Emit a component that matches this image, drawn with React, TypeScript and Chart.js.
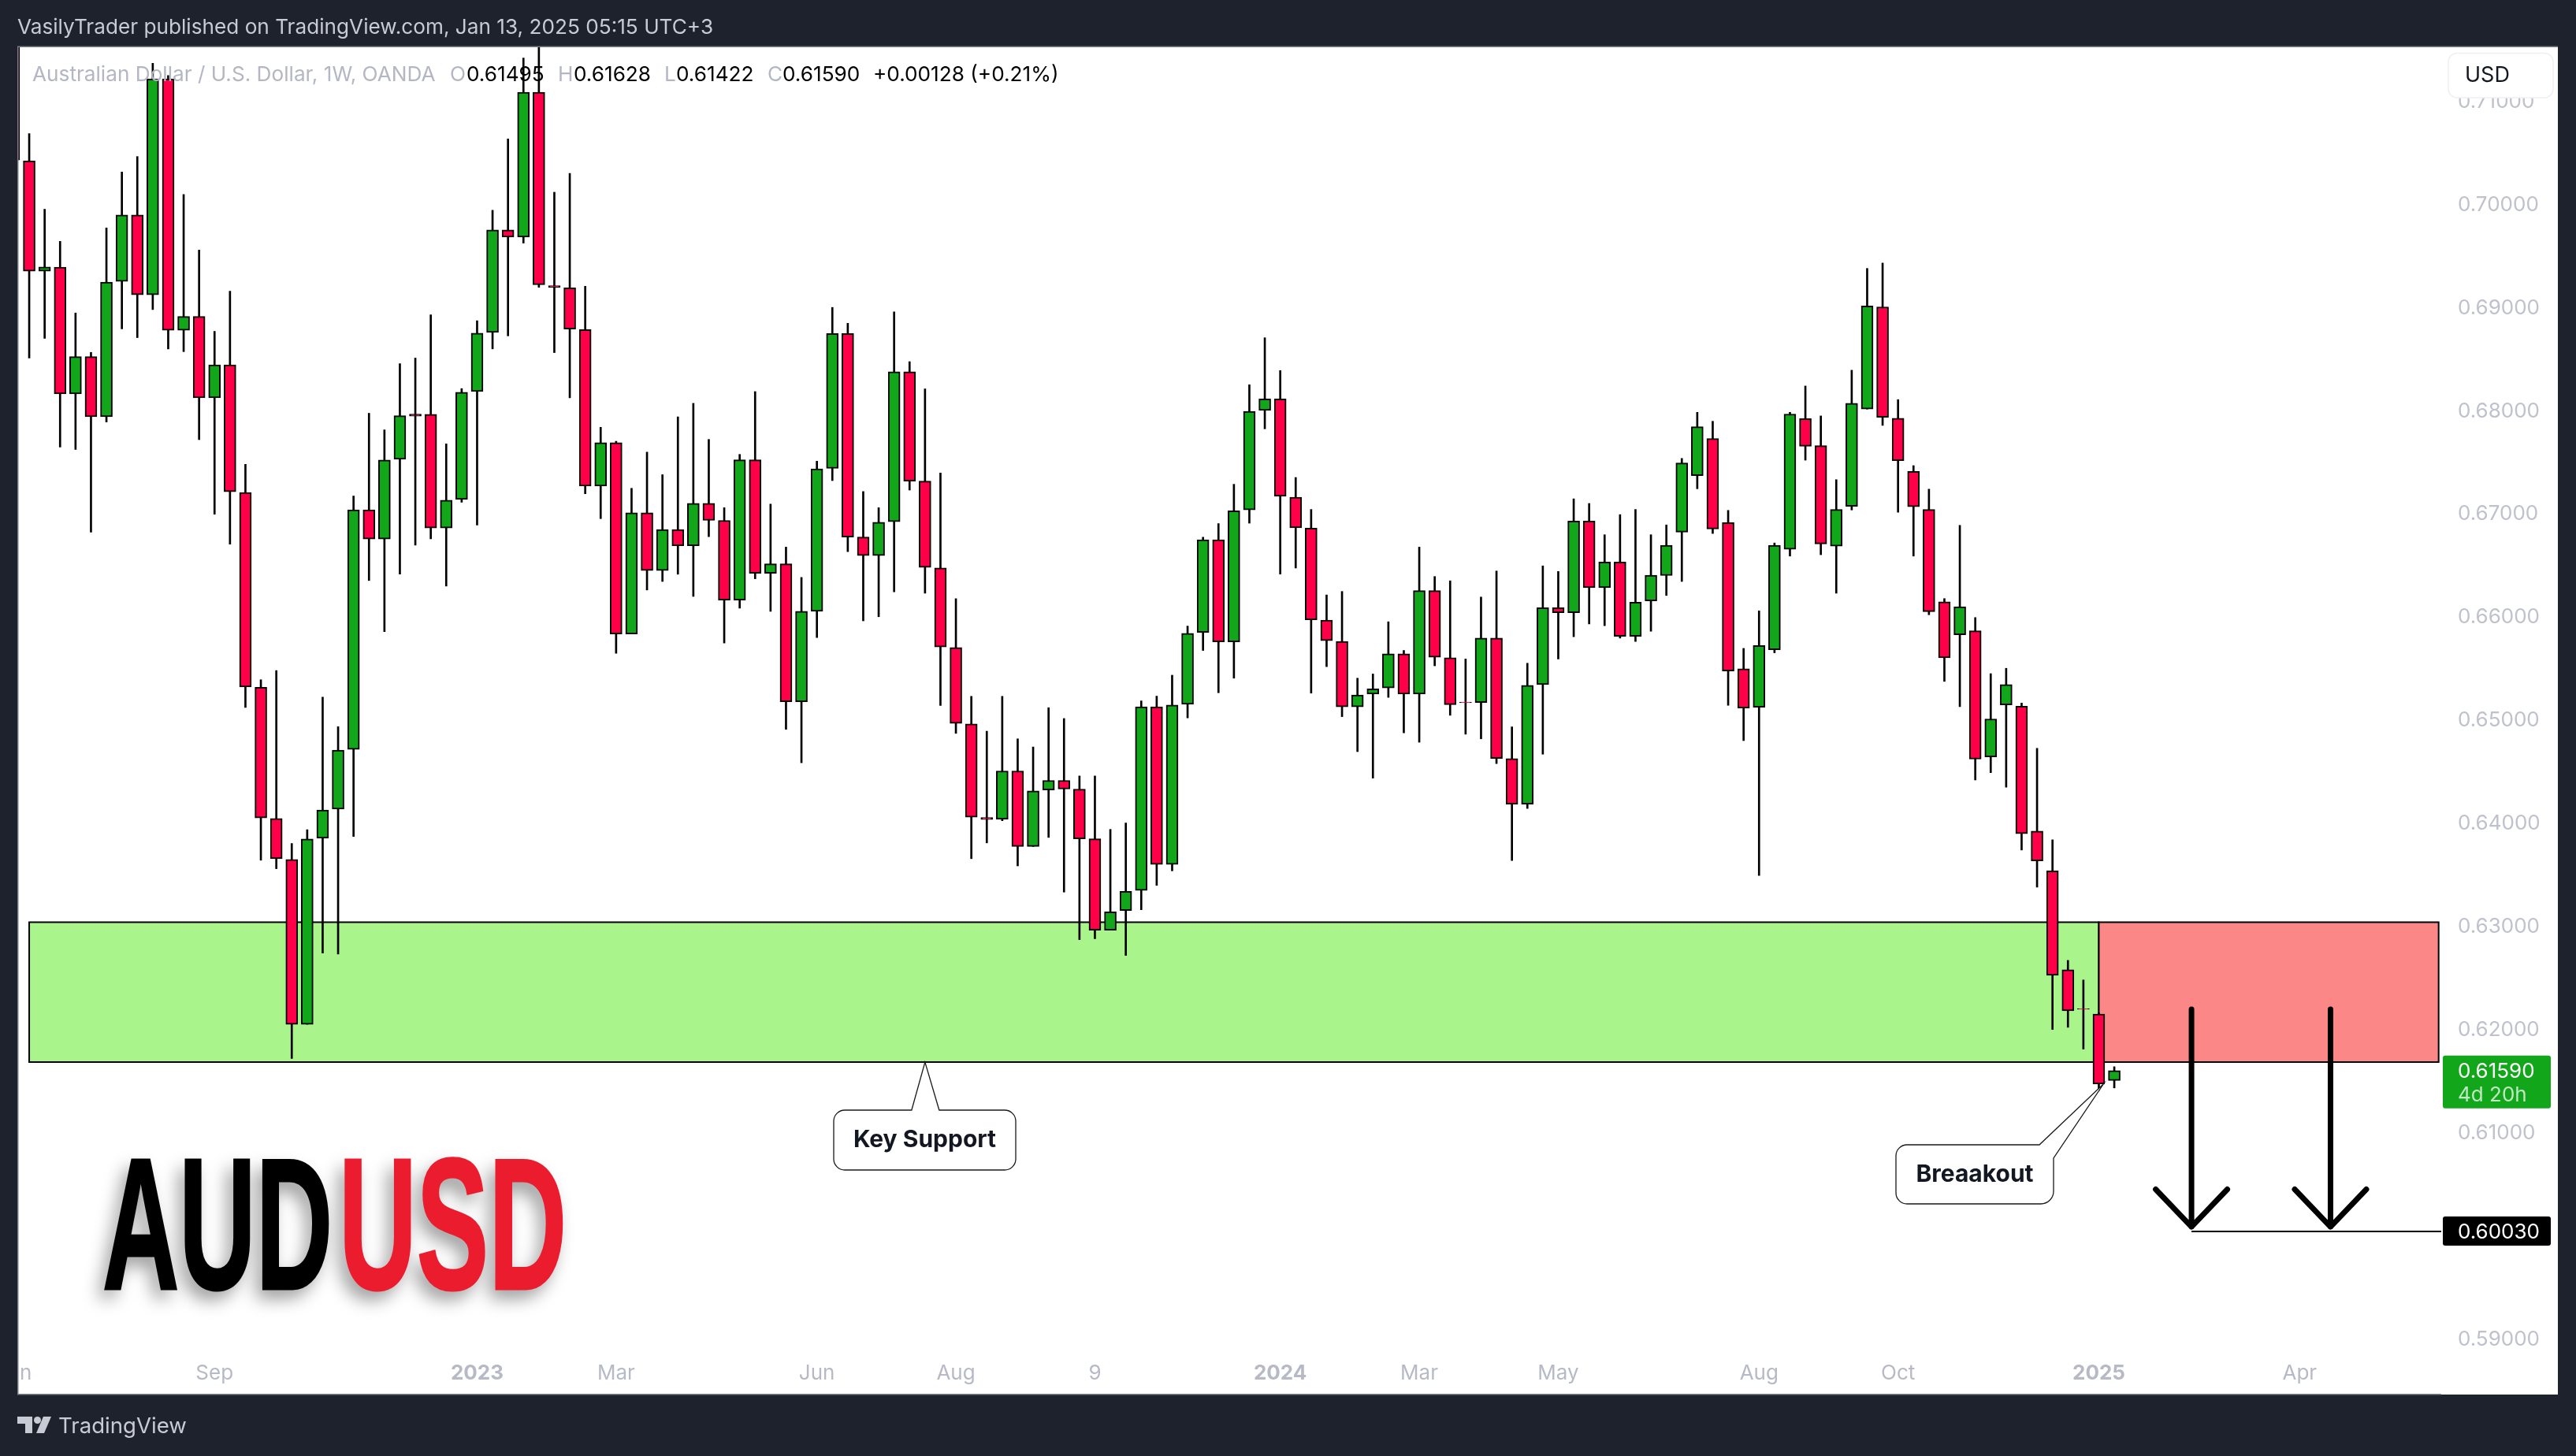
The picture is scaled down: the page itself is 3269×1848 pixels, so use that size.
import React, { useEffect, useRef } from "react";
import { Chart, registerables } from "chart.js";

Chart.register(...registerables);

const opens = [0.72,0.70412,0.69342,0.6938,0.68151,0.68513,0.6793,0.69243,0.69887,0.69113,0.71207,0.68769,0.68902,0.68114,0.68434,0.67196,0.65306,0.64035,0.63637,0.62039,0.63844,0.64125,0.64705,0.67028,0.66744,0.67517,0.67955,0.67954,0.66852,0.67128,0.68175,0.68748,0.69741,0.69672,0.71077,0.692,0.69179,0.68775,0.67258,0.67679,0.65824,0.66999,0.66438,0.66837,0.66679,0.67091,0.66925,0.66153,0.67512,0.66412,0.66504,0.65167,0.66043,0.67429,0.68736,0.66763,0.66583,0.66912,0.68367,0.67306,0.66465,0.65693,0.64952,0.64045,0.64026,0.64496,0.63763,0.64311,0.64404,0.6432,0.63838,0.62952,0.63142,0.63337,0.65117,0.63589,0.65142,0.65838,0.66737,0.65747,0.67027,0.67991,0.68103,0.6715,0.66849,0.65958,0.65751,0.65117,0.65242,0.653,0.65631,0.65242,0.66244,0.65594,0.65161,0.65159,0.65784,0.64616,0.64173,0.65333,0.66078,0.66029,0.66919,0.66273,0.66521,0.65801,0.66145,0.6639,0.66811,0.67359,0.67719,0.66903,0.65487,0.65114,0.65671,0.66645,0.67912,0.6765,0.66675,0.67061,0.68004,0.68995,0.67916,0.67399,0.67031,0.66136,0.65816,0.65855,0.64632,0.65136,0.65123,0.63913,0.63526,0.62568,0.6219,0.62138,0.61495];
const highs = [0.725,0.70675,0.69942,0.69631,0.68936,0.68554,0.69761,0.70303,0.70453,0.71357,0.71238,0.70085,0.69546,0.68758,0.69147,0.67469,0.6538,0.65469,0.63793,0.63926,0.65212,0.64924,0.67161,0.67964,0.67803,0.68445,0.68499,0.68919,0.67667,0.68203,0.68861,0.69932,0.70624,0.71408,0.717,0.70107,0.7029,0.69196,0.67828,0.67692,0.67236,0.67587,0.67368,0.67929,0.6806,0.6771,0.67048,0.67565,0.68174,0.67083,0.66666,0.66372,0.67499,0.6899,0.68837,0.67205,0.67048,0.68946,0.68464,0.68201,0.67385,0.66166,0.65219,0.64881,0.65219,0.64807,0.64728,0.65109,0.65004,0.64447,0.64447,0.63929,0.63991,0.65175,0.65221,0.65424,0.659,0.66762,0.66894,0.67275,0.6824,0.68696,0.68377,0.67341,0.67031,0.66202,0.66236,0.65395,0.65436,0.65942,0.65664,0.66666,0.66381,0.66339,0.65581,0.66182,0.66434,0.64923,0.6554,0.66484,0.6643,0.67134,0.67089,0.66786,0.66981,0.67031,0.66786,0.66881,0.67526,0.67973,0.67886,0.67022,0.65684,0.66048,0.66706,0.67973,0.68228,0.67938,0.6732,0.68381,0.69368,0.6942,0.68096,0.67456,0.67228,0.66167,0.66877,0.65983,0.65439,0.65491,0.65154,0.64715,0.63828,0.62659,0.62469,0.6215,0.61628];
const lows = [0.7,0.68499,0.6869,0.67636,0.67613,0.66811,0.67879,0.68782,0.68697,0.6897,0.68588,0.68561,0.67708,0.66985,0.66695,0.65111,0.6363,0.63548,0.61708,0.62039,0.62729,0.62721,0.6386,0.66342,0.65847,0.66405,0.66685,0.66746,0.66288,0.67101,0.6688,0.68588,0.68714,0.69614,0.69185,0.68552,0.68113,0.67184,0.66942,0.65636,0.65824,0.6625,0.66333,0.66403,0.66188,0.66767,0.65736,0.66074,0.66359,0.66043,0.64899,0.64575,0.65789,0.67311,0.66622,0.65951,0.65991,0.66232,0.67219,0.66219,0.65131,0.6486,0.63645,0.63798,0.64013,0.63575,0.63763,0.63851,0.63321,0.6286,0.62869,0.62952,0.62707,0.6315,0.63386,0.63527,0.6501,0.65664,0.65254,0.65395,0.66898,0.67813,0.66405,0.66463,0.6525,0.65507,0.65022,0.64683,0.64426,0.65209,0.64865,0.64774,0.65515,0.65035,0.64852,0.64807,0.64567,0.63627,0.64132,0.64658,0.65581,0.65797,0.65921,0.65904,0.65784,0.65751,0.6585,0.66197,0.66333,0.67232,0.66798,0.65132,0.6479,0.63483,0.65641,0.66579,0.67509,0.66592,0.66219,0.67026,0.68004,0.67846,0.67004,0.66579,0.6601,0.65364,0.65119,0.64408,0.64479,0.64338,0.63729,0.63369,0.61989,0.6201,0.61799,0.61398,0.61422];
const closes = [0.70419,0.69342,0.69383,0.68151,0.68513,0.6793,0.69236,0.69887,0.69113,0.71207,0.68769,0.68902,0.68114,0.68434,0.67203,0.6531,0.64039,0.63645,0.62039,0.63836,0.64117,0.64698,0.67028,0.66744,0.6751,0.6794,0.67935,0.66852,0.67121,0.68168,0.68741,0.69741,0.69672,0.71077,0.69209,0.69185,0.6878,0.67258,0.67679,0.65824,0.66999,0.66438,0.66837,0.66679,0.67091,0.66925,0.66153,0.67512,0.66412,0.66504,0.65167,0.66043,0.67425,0.68736,0.66763,0.66583,0.66907,0.68367,0.67306,0.66469,0.65697,0.64956,0.64048,0.64025,0.64496,0.63763,0.64303,0.64404,0.6432,0.63838,0.62952,0.6313,0.63328,0.65117,0.63589,0.65134,0.6583,0.66737,0.65747,0.67018,0.67983,0.68103,0.67159,0.66853,0.65962,0.65759,0.65117,0.65233,0.65291,0.65631,0.65242,0.66244,0.65598,0.65138,0.65157,0.65784,0.64616,0.64173,0.65325,0.66078,0.66029,0.66919,0.66273,0.66521,0.65801,0.66132,0.66393,0.66684,0.67482,0.67833,0.66842,0.65465,0.65106,0.65711,0.66684,0.67956,0.67644,0.66697,0.67031,0.68061,0.69004,0.67925,0.67504,0.67057,0.6604,0.65592,0.66088,0.6461,0.65,0.65334,0.63887,0.63624,0.62514,0.62171,0.62186,0.6146,0.6159];

const yTicks = [0.59,0.6,0.61,0.62,0.63,0.64,0.65,0.66,0.67,0.68,0.69,0.7,0.71];
const xTickIndex = [0,13,30,39,52,61,70,82,91,100,113,122,135,148];
const xTickLabels = ["Jun","Sep","2023","Mar","Jun","Aug","9","2024","Mar","May","Aug","Oct","2025","Apr"];
const boldTicks = [30,82,135];

const supportZone = { top: 0.63029, bottom: 0.61673, from: 1, split: 135, to: 157 };
const arrowIndex = [141,150];
const arrowTop = 0.62185;
const arrowTip = 0.60076;
const arrowHead = 0.60439;
const arrowHalf = 2.32;
const targetPrice = 0.6003;
const targetFrom = 141;
const lastPrice = 0.6159;

const priceMax = 0.7152;
const priceMin = 0.58877;
const indexMin = 0.283;
const indexMax = 157.17;

const keySupportTip = { x: 59, y: 0.61673 };
const breakoutTip = { x: 135.3, y: 0.6146 };

const FONT = "Inter";
const DARK = "#1e222d";
const GREEN = "#12a61a";
const RED = "#ff0048";

function roundedPath(ctx: CanvasRenderingContext2D, x: number, y: number, w: number, h: number, r: number) {
  ctx.beginPath();
  ctx.moveTo(x + r, y);
  ctx.arcTo(x + w, y, x + w, y + h, r);
  ctx.arcTo(x + w, y + h, x, y + h, r);
  ctx.arcTo(x, y + h, x, y, r);
  ctx.arcTo(x, y, x + w, y, r);
  ctx.closePath();
}

function text(ctx: CanvasRenderingContext2D, s: string, x: number, y: number, color: string, font: string, align: CanvasTextAlign = "left") {
  ctx.fillStyle = color;
  ctx.font = font;
  ctx.textAlign = align;
  ctx.textBaseline = "middle";
  ctx.fillText(s, x, y);
}

const backdrop = {
  id: "backdrop",
  beforeDraw(chart: any) {
    const c = chart.ctx;
    c.save();
    c.fillStyle = DARK;
    c.fillRect(0, 0, 3269, 1848);
    c.fillStyle = "#ffffff";
    c.fillRect(23, 59, 3223, 1711);
    c.restore();
  },
  beforeDatasetsDraw(chart: any) {
    const c = chart.ctx;
    const { x, y } = chart.scales;
    const top = y.getPixelForValue(supportZone.top);
    const bottom = y.getPixelForValue(supportZone.bottom);
    const a = x.getPixelForValue(supportZone.from);
    const b = x.getPixelForValue(supportZone.split);
    const d = x.getPixelForValue(supportZone.to);
    c.save();
    c.lineWidth = 2;
    c.strokeStyle = "#000000";
    c.fillStyle = "#a9f58b";
    c.fillRect(a, top, b - a, bottom - top);
    c.strokeRect(a, top, b - a, bottom - top);
    c.fillStyle = "#fb8886";
    c.fillRect(b, top, d - b, bottom - top);
    c.strokeRect(b, top, d - b, bottom - top);
    c.restore();
  },
  afterDraw(chart: any) {
    const c = chart.ctx;
    const { x, y } = chart.scales;
    c.save();
    // frame over clipped label
    c.fillStyle = DARK;
    c.fillRect(0, 1700, 22, 80);
    c.fillStyle = "#7b7f8a";
    c.fillRect(22, 59, 1.5, 1711);
    c.fillRect(22, 58.5, 3224, 1.5);
    c.fillRect(22, 1769, 3076, 1.5);

    // header + footer
    text(c, "VasilyTrader published on TradingView.com, Jan 13, 2025 05:15 UTC+3", 22, 35, "#c8cad4", `400 26.2px ${FONT}`);
    c.fillStyle = "#c8cad4";
    c.beginPath();
    c.moveTo(22, 1798); c.lineTo(41, 1798); c.lineTo(41, 1819); c.lineTo(32, 1819); c.lineTo(32, 1807); c.lineTo(22, 1807);
    c.closePath(); c.fill();
    c.beginPath(); c.arc(47.5, 1802.5, 4.5, 0, Math.PI * 2); c.fill();
    c.beginPath();
    c.moveTo(55, 1798); c.lineTo(65, 1798); c.lineTo(56, 1819); c.lineTo(46, 1819);
    c.closePath(); c.fill();
    text(c, "TradingView", 74, 1811, "#c8cad4", `400 27.6px ${FONT}`);

    // legend
    const gray = "#b4b7c3";
    const f = `400 26.2px ${FONT}`;
    text(c, "Australian Dollar / U.S. Dollar, 1W, OANDA", 41, 95, gray, f);
    text(c, "O", 571, 95, gray, f);
    text(c, "0.61495", 592, 95, "#000000", f);
    text(c, "H", 708, 95, gray, f);
    text(c, "0.61628", 728, 95, "#000000", f);
    text(c, "L", 843, 95, gray, f);
    text(c, "0.61422", 858, 95, "#000000", f);
    text(c, "C", 974, 95, gray, f);
    text(c, "0.61590", 993, 95, "#000000", f);
    text(c, "+0.00128 (+0.21%)", 1108, 95, "#000000", f);

    // currency button
    roundedPath(c, 3107, 67.5, 133, 56.5, 11);
    c.fillStyle = "#ffffff";
    c.fill();
    c.strokeStyle = "#eeeef5";
    c.lineWidth = 1.5;
    c.stroke();
    text(c, "USD", 3128, 96, "#131722", `400 27px ${FONT}`);

    // price labels
    const last = y.getPixelForValue(lastPrice);
    roundedPath(c, 3100, last - 19, 137, 67, 3);
    c.fillStyle = GREEN;
    c.fill();
    text(c, lastPrice.toFixed(5), 3119, last + 1, "#ffffff", `400 26px ${FONT}`);
    text(c, "4d 20h", 3119, last + 31, "#c0e8c2", `400 26px ${FONT}`);
    const tgt = y.getPixelForValue(targetPrice);
    roundedPath(c, 3100, tgt - 19, 137, 37, 3);
    c.fillStyle = "#000000";
    c.fill();
    text(c, targetPrice.toFixed(5), 3119, tgt + 1, "#ffffff", `400 26px ${FONT}`);

    // callouts
    c.lineWidth = 1.3;
    c.strokeStyle = "#1a1a1a";
    c.fillStyle = "#ffffff";
    const k = { x: x.getPixelForValue(keySupportTip.x), y: y.getPixelForValue(keySupportTip.y) };
    c.beginPath();
    c.moveTo(1072, 1409);
    c.lineTo(k.x - 17, 1409);
    c.lineTo(k.x, k.y);
    c.lineTo(k.x + 18, 1409);
    c.lineTo(1275, 1409);
    c.arcTo(1289, 1409, 1289, 1423, 14);
    c.lineTo(1289, 1471);
    c.arcTo(1289, 1485, 1275, 1485, 14);
    c.lineTo(1072, 1485);
    c.arcTo(1058, 1485, 1058, 1471, 14);
    c.lineTo(1058, 1423);
    c.arcTo(1058, 1409, 1072, 1409, 14);
    c.closePath();
    c.fill();
    c.stroke();
    text(c, "Key Support", 1173.5, 1447, "#131722", `700 30px ${FONT}`, "center");

    const b = { x: x.getPixelForValue(breakoutTip.x), y: y.getPixelForValue(breakoutTip.y) };
    c.fillStyle = "#ffffff";
    c.beginPath();
    c.moveTo(2420, 1453);
    c.lineTo(2588, 1453);
    c.lineTo(b.x, b.y);
    c.lineTo(2606, 1470);
    c.lineTo(2606, 1512);
    c.arcTo(2606, 1528, 2590, 1528, 16);
    c.lineTo(2420, 1528);
    c.arcTo(2406, 1528, 2406, 1514, 14);
    c.lineTo(2406, 1467);
    c.arcTo(2406, 1453, 2420, 1453, 14);
    c.closePath();
    c.fill();
    c.stroke();
    text(c, "Breaakout", 2506, 1491, "#131722", `700 30px ${FONT}`, "center");

    // big logo
    const logo = (s: string, left: number, width: number, color: string) => {
      c.save();
      c.font = `700 238px "Liberation Sans"`;
      c.textAlign = "left";
      c.textBaseline = "alphabetic";
      const w = c.measureText(s).width;
      c.shadowColor = "rgba(0,0,0,0.4)";
      c.shadowBlur = 22;
      c.shadowOffsetX = -8;
      c.shadowOffsetY = 12;
      c.translate(left, 1636);
      c.scale(width / w, 1);
      c.fillStyle = color;
      c.fillText(s, 0, 0);
      c.shadowColor = "transparent";
      c.strokeStyle = color;
      c.lineWidth = 3;
      c.strokeText(s, 0, 0);
      c.restore();
    };
    logo("AUD", 130, 292, "#000000");
    logo("USD", 430, 289, "#ec1c2f");
    c.restore();
  },
};

const candleIndex = opens.map((_, i) => i);
const arrowLine = (i: number) => ({
  type: "line",
  order: 1,
  borderColor: "#000000",
  borderWidth: 7,
  borderCapStyle: "round",
  borderJoinStyle: "round",
  pointRadius: 0,
  tension: 0,
  data: [
    { x: i, y: arrowTop },
    { x: i, y: arrowTip },
    { x: i - arrowHalf, y: arrowHead },
    { x: i, y: arrowTip },
    { x: i + arrowHalf, y: arrowHead },
  ],
});

export default function App() {
  const ref = useRef<HTMLCanvasElement>(null);
  useEffect(() => {
    const chart = new Chart(ref.current as HTMLCanvasElement, {
      type: "bar",
      data: {
        datasets: [
          {
            order: 3,
            grouped: false,
            barThickness: 2,
            backgroundColor: "#000000",
            borderWidth: 0,
            data: candleIndex.map((i) => ({ x: i, y: [lows[i], highs[i]] })),
          },
          {
            order: 2,
            grouped: false,
            barThickness: 15,
            backgroundColor: candleIndex.map((i) => (closes[i] >= opens[i] ? GREEN : RED)),
            borderColor: "#000000",
            borderWidth: 2,
            borderSkipped: false,
            data: candleIndex.map((i) => ({ x: i, y: [opens[i], closes[i]] })),
          },
          ...arrowIndex.map(arrowLine),
          {
            type: "line",
            order: 1,
            borderColor: "#000000",
            borderWidth: 2,
            pointRadius: 0,
            data: [
              { x: targetFrom, y: targetPrice },
              { x: indexMax, y: targetPrice },
            ],
          },
        ],
      } as any,
      options: {
        animation: false,
        responsive: false,
        devicePixelRatio: 1,
        layout: { padding: { left: 23, top: 59, right: 23, bottom: 78 } },
        plugins: { legend: { display: false }, tooltip: { enabled: false } },
        scales: {
          x: {
            type: "linear",
            offset: false,
            min: indexMin,
            max: indexMax,
            grid: { display: false, offset: false, drawTicks: false },
            border: { display: false },
            afterBuildTicks: (axis: any) => {
              axis.ticks = xTickIndex.map((value) => ({ value }));
            },
            afterFit: (axis: any) => {
              axis.height = 56;
              axis.paddingLeft = 0;
              axis.paddingRight = 0;
            },
            ticks: {
              autoSkip: false,
              maxRotation: 0,
              padding: 14,
              color: "#b7bac6",
              font: (ctx: any) => ({
                family: FONT,
                size: 26,
                weight: ctx.tick && boldTicks.includes(ctx.tick.value) ? "700" : "400",
              }),
              callback: (value: any) => xTickLabels[xTickIndex.indexOf(value)],
            },
          },
          y: {
            position: "right",
            min: priceMin,
            max: priceMax,
            grid: { display: false, drawTicks: false },
            border: { display: false },
            afterBuildTicks: (axis: any) => {
              axis.ticks = yTicks.map((value) => ({ value }));
            },
            afterFit: (axis: any) => {
              axis.width = 148;
              axis.paddingTop = 0;
              axis.paddingBottom = 0;
            },
            ticks: {
              autoSkip: false,
              padding: 21,
              labelOffset: 2,
              color: "#bfc1cc",
              font: { family: FONT, size: 26 },
              callback: (value: any) => Number(value).toFixed(5),
            },
          },
        },
      } as any,
      plugins: [backdrop],
    } as any);
    return () => chart.destroy();
  }, []);
  return (
    <div style={{ position: "fixed", left: 0, top: 0, width: 3269, height: 1848, background: DARK }}>
      <canvas ref={ref} width={3269} height={1848} style={{ display: "block", width: 3269, height: 1848 }} />
    </div>
  );
}
